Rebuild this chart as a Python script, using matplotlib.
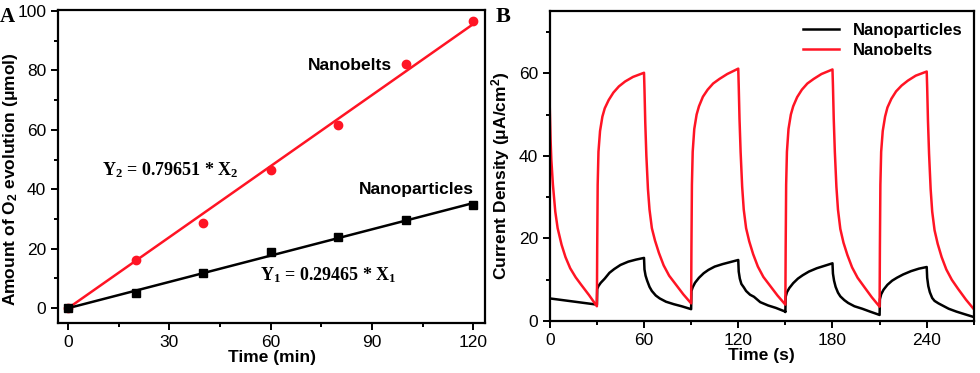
import numpy as np
import matplotlib
matplotlib.use("Agg")
import matplotlib.pyplot as plt
from matplotlib.ticker import MultipleLocator

plt.rcParams['font.family'] = ['Liberation Sans', 'DejaVu Sans']
plt.rcParams['mathtext.default'] = 'regular'

# ---- panel A: O2 evolution ----
time_min = [0, 20, 40, 60, 80, 100, 120]
nanobelts_o2 = [0, 16.3, 28.5, 46.5, 61.5, 82.3, 96.7]
nanoparticles_o2 = [0, 5.0, 11.8, 18.8, 23.8, 29.5, 34.8]
slope_belts = 0.79651
slope_particles = 0.29465

# ---- panel B: photocurrent, read per light on/off segment ----
# red (nanobelts)
red_first_t = [0, 0.5, 1, 2, 3.5, 5, 7.5, 10, 13, 16.5, 20, 25, 30]
red_first_v = [51.5, 44, 39, 33, 26.5, 22.5, 18.5, 15.5, 12.8, 10.6, 8.8, 6.3, 3.6]
rise_t = [0, 0.2, 0.5, 1, 2, 3.5, 5, 7.5, 10.5, 14, 18, 23, 30]
fall_t = [0, 0.3, 0.8, 1.5, 2.5, 3.5, 5, 7, 9.5, 12.5, 16, 20, 25, 30]
on_starts = [30, 90, 150, 210]
off_starts = [60, 120, 180, 240]
red_rises = [
    [3.6, 18, 33, 41, 46, 49.5, 51.5, 53.5, 55.3, 56.8, 58.0, 59.1, 60.1],
    [4.3, 18, 33, 41, 46.5, 50, 52, 54.3, 56, 57.5, 58.6, 59.8, 61.1],
    [4.0, 18, 33, 41, 46.5, 50, 52, 54.2, 56, 57.5, 58.6, 59.8, 60.9],
    [3.5, 18, 33, 41, 46, 49.5, 51.7, 53.8, 55.6, 57, 58.2, 59.4, 60.4],
]
red_falls = [
    [60.1, 56, 48, 40, 32, 27, 22.5, 19.5, 16.5, 13.5, 11, 9, 6.5, 4.3],
    [61.1, 57, 49, 41, 32.5, 27, 22.5, 19.3, 16.2, 13.2, 10.7, 8.7, 6.2, 4.0],
    [60.9, 57, 49, 41, 32.5, 27, 22.3, 19, 16, 13, 10.5, 8.4, 5.8, 3.5],
    [60.4, 56.5, 48.5, 40.5, 32, 26.5, 22, 18.7, 15.5, 12.5, 10, 7.8, 5.2, 2.9],
]
# black (nanoparticles)
blk_first_t = [0, 10, 20, 30]
blk_first_v = [5.5, 5.0, 4.5, 4.0]
blk_rise_t = [0, 0.2, 1, 2.5, 5, 8, 11, 15, 20, 25, 30]
blk_fall_t = [0, 0.3, 1, 2, 3.5, 5, 7.5, 10, 14, 19, 24, 30]
blk_rises = [
    [4.0, 7.8, 8.5, 9.3, 10.3, 11.7, 12.6, 13.6, 14.4, 14.9, 15.3],
    [2.9, 7.3, 8.2, 9.3, 10.5, 11.6, 12.4, 13.2, 13.8, 14.3, 14.8],
    [2.2, 5.9, 7.0, 8.0, 9.2, 10.3, 11.1, 12.0, 12.8, 13.4, 14.0],
    [1.5, 5.3, 6.5, 7.6, 8.8, 9.8, 10.5, 11.3, 12.1, 12.7, 13.1],
]
blk_falls = [
    [15.3, 12.5, 11.0, 9.8, 8.3, 7.3, 6.2, 5.5, 4.7, 4.1, 3.6, 2.9],
    [14.8, 12.0, 10.3, 9.0, 8.2, 7.3, 6.4, 5.9, 4.6, 3.8, 3.2, 2.3],
    [14.0, 11.5, 9.8, 8.3, 6.9, 6.0, 5.1, 4.4, 3.6, 3.0, 2.3, 1.5],
    [13.1, 10.5, 8.5, 7.0, 5.6, 4.9, 4.3, 3.8, 3.0, 2.3, 1.7, 1.0],
]


def join_segments(first_t, first_v, r_t, rises, f_t, falls):
    t = list(first_t)
    v = list(first_v)
    for on, off, rv, fv in zip(on_starts, off_starts, rises, falls):
        t += [on + dt for dt in r_t]
        v += rv
        t += [off + dt for dt in f_t]
        v += fv
    return np.array(t), np.array(v)


red_t, red_v = join_segments(red_first_t, red_first_v, rise_t, red_rises, fall_t, red_falls)
blk_t, blk_v = join_segments(blk_first_t, blk_first_v, blk_rise_t, blk_rises, blk_fall_t, blk_falls)

RED = '#ff1424'

fig = plt.figure(figsize=(9.8, 3.73), dpi=100)
ax1 = fig.add_axes([0.0592, 0.134, 0.4357, 0.839])
ax2 = fig.add_axes([0.561, 0.139, 0.4327, 0.831])


def style(ax):
    for s in ax.spines.values():
        s.set_linewidth(1.6)
    ax.tick_params(which='both', direction='out', width=1.4, labelsize=12.5,
                   top=False, right=False)
    ax.tick_params(which='major', length=5)
    ax.tick_params(which='minor', length=3)


# panel A
xfit = np.array([0, 120])
ax1.plot(xfit, slope_belts * xfit, color=RED, lw=1.8)
ax1.plot(xfit, slope_particles * xfit, color='black', lw=1.8)
ax1.plot(time_min, nanobelts_o2, 'o', color=RED, ms=6)
ax1.plot(time_min, nanoparticles_o2, 's', color='black', ms=5.5)
ax1.set_xlim(-3, 123.5)
ax1.set_ylim(-5, 100.3)
ax1.xaxis.set_major_locator(MultipleLocator(30))
ax1.xaxis.set_minor_locator(MultipleLocator(15))
ax1.yaxis.set_major_locator(MultipleLocator(20))
ax1.yaxis.set_minor_locator(MultipleLocator(10))
style(ax1)
ax1.set_xlabel('Time (min)', fontsize=12.5, fontweight='bold', labelpad=0)
ax1.set_ylabel('Amount of O$_2$ evolution (μmol)', fontsize=12.5, fontweight='bold')
ax1.yaxis.set_label_coords(-0.088, 0.46)
ax1.text(71, 81.7, 'Nanobelts', fontsize=12.5, fontweight='bold', va='center')
ax1.text(86, 40, 'Nanoparticles', fontsize=12.5, fontweight='bold', va='center')
ax1.text(10, 46.4, 'Y$_2$ = 0.79651 * X$_2$', fontsize=13, fontweight='bold',
         family='Liberation Serif', va='center')
ax1.text(56.9, 11.1, 'Y$_1$ = 0.29465 * X$_1$', fontsize=13, fontweight='bold',
         family='Liberation Serif', va='center')

# panel B
ax2.plot(blk_t, blk_v, color='black', lw=1.8, label='Nanoparticles')
ax2.plot(red_t, red_v, color=RED, lw=1.8, label='Nanobelts')
ax2.set_xlim(0, 270)
ax2.set_ylim(0, 75)
ax2.xaxis.set_major_locator(MultipleLocator(60))
ax2.xaxis.set_minor_locator(MultipleLocator(30))
ax2.yaxis.set_major_locator(MultipleLocator(20))
ax2.yaxis.set_minor_locator(MultipleLocator(10))
style(ax2)
ax2.set_xlabel('Time (s)', fontsize=12.5, fontweight='bold', labelpad=0)
ax2.set_ylabel('Current Density (μA/cm$^2$)', fontsize=12.5, fontweight='bold')
ax2.yaxis.set_label_coords(-0.088, 0.47)
ax2.legend(loc='upper right', frameon=False,
           prop={'weight': 'bold', 'size': 12}, handlelength=2.2,
           borderaxespad=0.3, labelspacing=0.3)

fig.text(0.0, 0.955, 'A', fontsize=15, fontweight='bold', family='Liberation Serif', va='center')
fig.text(0.506, 0.955, 'B', fontsize=16, fontweight='bold', family='Liberation Serif', va='center')

fig.savefig('out.png', dpi=100)
